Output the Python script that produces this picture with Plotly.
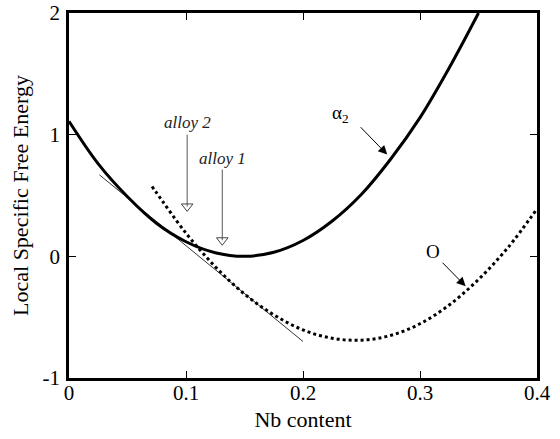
import plotly.graph_objects as go

# alpha2 free energy curve (solid)
alpha2_x = [0.0, 0.025, 0.05, 0.075, 0.1, 0.125, 0.15, 0.175, 0.2, 0.225, 0.25, 0.275, 0.3, 0.325, 0.35]
alpha2_y = [1.11, 0.76, 0.49, 0.27, 0.12, 0.03, 0.0, 0.033, 0.13, 0.29, 0.51, 0.80, 1.14, 1.55, 2.0]

# O phase free energy curve (dotted)
o_x = [0.071, 0.075, 0.1, 0.125, 0.15, 0.175, 0.2, 0.225, 0.25, 0.275, 0.3, 0.325, 0.35, 0.375, 0.4]
o_y = [0.574, 0.52, 0.19, -0.085, -0.31, -0.48, -0.605, -0.673, -0.689, -0.65, -0.554, -0.40, -0.19, 0.07, 0.39]

# common tangent (thin line)
tan_x = [0.026, 0.2]
tan_y = [0.67, -0.70]

# alloy composition markers
alloy_names = ["alloy 2", "alloy 1"]
alloy_x = [0.101, 0.131]
alloy_label_y = [1.098, 0.803]
alloy_top_y = [1.0, 0.713]
alloy_tip_y = [0.36, 0.082]

# phase labels with arrows
phase_labels = ["α<sub>2</sub>", "O"]
phase_label_x = [0.232, 0.311]
phase_label_y = [1.17, 0.04]
phase_tail_x = [0.248, 0.318]
phase_tail_y = [1.074, -0.04]
phase_tip_x = [0.272, 0.339]
phase_tip_y = [0.836, -0.246]

x_ticks = [0, 0.1, 0.2, 0.3, 0.4]
x_ticklabels = ["0", "0.1", "0.2", "0.3", "0.4"]
y_ticks = [-1, 0, 1, 2]
y_ticklabels = ["-1", "0", "1", "2"]

FONT = "Liberation Serif"

fig = go.Figure()
fig.add_trace(go.Scatter(x=alpha2_x, y=alpha2_y, mode="lines", line_shape="spline",
                         line=dict(color="black", width=3), showlegend=False, hoverinfo="skip"))
fig.add_trace(go.Scatter(x=o_x, y=o_y, mode="lines", line_shape="spline",
                         line=dict(color="black", width=3, dash="dot"), showlegend=False, hoverinfo="skip"))
fig.add_trace(go.Scatter(x=tan_x, y=tan_y, mode="lines",
                         line=dict(color="black", width=0.8), showlegend=False, hoverinfo="skip"))

# alloy arrows: shaft + open triangular head
for i in range(len(alloy_names)):
    fig.add_trace(go.Scatter(x=[alloy_x[i], alloy_x[i]], y=[alloy_top_y[i], alloy_tip_y[i] + 0.05],
                             mode="lines", line=dict(color="#444", width=0.9),
                             showlegend=False, hoverinfo="skip"))
    fig.add_annotation(x=alloy_x[i], y=alloy_label_y[i], text="<i>" + alloy_names[i] + "</i>",
                       showarrow=False, font=dict(family=FONT, size=17, color="#222"))

fig.add_trace(go.Scatter(x=alloy_x, y=[t + 0.05 for t in alloy_tip_y], mode="markers",
                         marker=dict(symbol="triangle-down-open", size=10, color="#444",
                                     line=dict(width=1, color="#444")),
                         showlegend=False, hoverinfo="skip"))

for i in range(len(phase_labels)):
    fig.add_annotation(x=phase_label_x[i], y=phase_label_y[i], text=phase_labels[i], showarrow=False,
                       font=dict(family=FONT, size=19, color="black"))
    fig.add_annotation(x=phase_tip_x[i], y=phase_tip_y[i], ax=phase_tail_x[i], ay=phase_tail_y[i],
                       axref="x", ayref="y", xref="x", yref="y", text=" ", showarrow=True,
                       arrowhead=2, arrowsize=1.8, arrowwidth=1, arrowcolor="black",
                       font=dict(size=1))

fig.update_layout(
    width=560, height=439,
    margin=dict(l=69, r=23, t=13, b=61),
    paper_bgcolor="white", plot_bgcolor="white",
    font=dict(family=FONT, size=21, color="black"),
    xaxis=dict(range=[0, 0.4], tickvals=x_ticks, ticktext=x_ticklabels, automargin=False,
               showgrid=False, zeroline=False, showline=True, linewidth=2.5, linecolor="black",
               mirror="ticks", ticks="inside", ticklen=7, tickwidth=1.3, tickcolor="black",
               ticklabelstandoff=-6,
               title=dict(text="Nb content", font=dict(size=22), standoff=8)),
    yaxis=dict(range=[-1, 2], tickvals=y_ticks, ticktext=y_ticklabels, automargin=False,
               showgrid=False, zeroline=False, showline=True, linewidth=2.5, linecolor="black",
               mirror="ticks", ticks="inside", ticklen=7, tickwidth=1.3, tickcolor="black",
               ticklabelstandoff=2,
               title=dict(text="Local Specific Free Energy", font=dict(size=22), standoff=8)),
)

fig.write_html("out.html", config={"displayModeBar": False},
               post_script="document.body.style.margin='0px';")
